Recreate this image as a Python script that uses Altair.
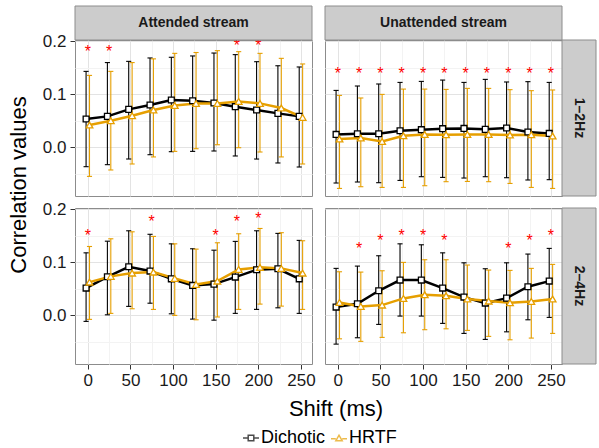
import altair as alt
import pandas as pd

shifts = [0, 25, 50, 75, 100, 125, 150, 175, 200, 225, 250]
streams = ["Attended stream", "Unattended stream"]
bands = ["1–2Hz", "2–4Hz"]
series_names = ["Dichotic", "HRTF"]

# Attended stream, 1–2Hz
att12_dich_mean = [0.0535, 0.0585, 0.0717, 0.080, 0.0894, 0.088, 0.0838, 0.0768, 0.0705, 0.0642, 0.0585]
att12_dich_lo = [-0.0364, -0.0326, -0.0219, -0.0138, -0.0081, -0.0075, -0.0068, -0.0162, -0.022, -0.0294, -0.037]
att12_dich_hi = [0.1434, 0.160, 0.1623, 0.1687, 0.170, 0.1725, 0.178, 0.175, 0.1617, 0.154, 0.1517]
att12_hrtf_mean = [0.0423, 0.0504, 0.0598, 0.0705, 0.0792, 0.083, 0.083, 0.0868, 0.083, 0.0743, 0.0566]
att12_hrtf_lo = [-0.0547, -0.0426, -0.0313, -0.018, -0.0075, -0.0025, 0.005, -0.0006, -0.0087, -0.018, -0.0313]
att12_hrtf_hi = [0.1358, 0.1434, 0.160, 0.167, 0.1774, 0.179, 0.1825, 0.1806, 0.1774, 0.168, 0.1574]
att12_star_shift = [0, 25, 175, 200]
att12_star_y = [0.1875, 0.1875, 0.198, 0.198]

# Unattended stream, 1–2Hz
una12_dich_mean = [0.0245, 0.0258, 0.0258, 0.0315, 0.0334, 0.0353, 0.0358, 0.034, 0.0366, 0.029, 0.0264]
una12_dich_lo = [-0.0672, -0.0653, -0.0666, -0.0623, -0.0553, -0.0566, -0.0578, -0.0553, -0.0572, -0.0615, -0.0609]
una12_dich_hi = [0.1075, 0.1158, 0.1196, 0.1226, 0.1245, 0.127, 0.1226, 0.1283, 0.1234, 0.124, 0.1226]
una12_hrtf_mean = [0.0158, 0.0177, 0.0113, 0.022, 0.0245, 0.024, 0.0245, 0.0245, 0.0234, 0.024, 0.0215]
una12_hrtf_lo = [-0.0774, -0.0742, -0.0755, -0.0755, -0.0723, -0.0647, -0.0642, -0.0647, -0.068, -0.0755, -0.0774]
una12_hrtf_hi = [0.0981, 0.0932, 0.100, 0.110, 0.110, 0.1094, 0.1113, 0.1113, 0.1089, 0.107, 0.1083]
una12_star_shift = [0, 25, 50, 75, 100, 125, 150, 175, 200, 225, 250]
una12_star_y = [0.1466] * 11

# Attended stream, 2–4Hz
att24_dich_mean = [0.0515, 0.0728, 0.0917, 0.0836, 0.069, 0.0566, 0.059, 0.0723, 0.086, 0.0879, 0.069]
att24_dich_lo = [-0.0113, 0.0011, 0.017, 0.023, 0.003, -0.007, -0.009, 0.0038, 0.0113, 0.0143, 0.0038]
att24_dich_hi = [0.118, 0.140, 0.1596, 0.153, 0.135, 0.1257, 0.123, 0.1396, 0.1596, 0.1547, 0.1415]
att24_hrtf_mean = [0.0628, 0.0736, 0.0798, 0.0817, 0.0698, 0.0585, 0.0647, 0.0868, 0.0906, 0.0887, 0.0798]
att24_hrtf_lo = [-0.0075, 0.0038, 0.0125, 0.0113, 0.000, -0.0083, -0.003, 0.0113, 0.0213, 0.0175, 0.0113]
att24_hrtf_hi = [0.130, 0.1445, 0.1577, 0.149, 0.135, 0.125, 0.137, 0.154, 0.164, 0.156, 0.1408]
att24_star_shift = [0, 75, 150, 175, 200]
att24_star_y = [0.158, 0.183, 0.158, 0.183, 0.189]

# Unattended stream, 2–4Hz
una24_dich_mean = [0.0157, 0.0219, 0.0464, 0.0666, 0.0666, 0.0515, 0.0345, 0.0232, 0.0326, 0.054, 0.0647]
una24_dich_lo = [-0.0542, -0.0422, -0.017, -0.0013, -0.0013, -0.0151, -0.034, -0.0453, -0.031, -0.0083, -0.0038]
una24_dich_hi = [0.0887, 0.093, 0.1125, 0.135, 0.1332, 0.118, 0.0992, 0.088, 0.0992, 0.1157, 0.1264]
una24_hrtf_mean = [0.0245, 0.017, 0.0194, 0.032, 0.0389, 0.037, 0.0308, 0.027, 0.0238, 0.0264, 0.0308]
una24_hrtf_lo = [-0.0442, -0.049, -0.0415, -0.0328, -0.027, -0.0253, -0.0283, -0.0396, -0.046, -0.0428, -0.034]
una24_hrtf_hi = [0.0823, 0.0817, 0.0842, 0.100, 0.105, 0.105, 0.095, 0.0855, 0.0849, 0.0887, 0.0962]
una24_star_shift = [25, 50, 75, 100, 125, 200, 225, 250]
una24_star_y = [0.1326, 0.148, 0.157, 0.157, 0.148, 0.1326, 0.148, 0.157]

panels = [
    ("Attended stream", "1–2Hz",
     (att12_dich_mean, att12_dich_lo, att12_dich_hi),
     (att12_hrtf_mean, att12_hrtf_lo, att12_hrtf_hi),
     (att12_star_shift, att12_star_y)),
    ("Unattended stream", "1–2Hz",
     (una12_dich_mean, una12_dich_lo, una12_dich_hi),
     (una12_hrtf_mean, una12_hrtf_lo, una12_hrtf_hi),
     (una12_star_shift, una12_star_y)),
    ("Attended stream", "2–4Hz",
     (att24_dich_mean, att24_dich_lo, att24_dich_hi),
     (att24_hrtf_mean, att24_hrtf_lo, att24_hrtf_hi),
     (att24_star_shift, att24_star_y)),
    ("Unattended stream", "2–4Hz",
     (una24_dich_mean, una24_dich_lo, una24_dich_hi),
     (una24_hrtf_mean, una24_hrtf_lo, una24_hrtf_hi),
     (una24_star_shift, una24_star_y)),
]

rows = []
for stream, band, dich, hrtf, stars in panels:
    star_map = dict(zip(stars[0], stars[1]))
    for name, (m, lo, hi) in (("Dichotic", dich), ("HRTF", hrtf)):
        for i, s in enumerate(shifts):
            rows.append({
                "stream": stream, "band": band, "series": name, "shift": s,
                "mean": m[i], "lo": lo[i], "hi": hi[i],
                "star_y": star_map.get(s) if name == "Dichotic" else None,
            })
df = pd.DataFrame(rows)

FONT = "Liberation Sans"
W, H = 237, 156
STRIP = 34
DODGE = 2
CAP = 3

x_scale = alt.Scale(domain=[-15, 263], nice=False, zero=False)
y_scale = alt.Scale(domain=[-0.0917, 0.2026], nice=False, zero=False)

axis_common = dict(
    labelFont=FONT, labelFontSize=17, labelColor="#1A1A1A",
    tickColor="#333333", tickSize=5, domain=False, gridWidth=1, title=None,
)
x_axis = alt.Axis(
    values=[0, 25, 50, 75, 100, 125, 150, 175, 200, 225, 250],
    labelExpr="datum.value % 50 == 0 ? datum.label : ''",
    tickOpacity={"condition": {"test": "datum.value % 50 == 0", "value": 1}, "value": 0},
    gridColor={"condition": {"test": "datum.value % 50 == 0", "value": "#E3E3E3"}, "value": "#F3F3F3"},
    labelPadding=3,
    **axis_common,
)
major_y = "abs(datum.value*10 - round(datum.value*10)) < 0.001"
y_axis = alt.Axis(
    values=[-0.05, 0.0, 0.05, 0.1, 0.15, 0.2],
    labelExpr=major_y + " ? format(datum.value, '.1f') : ''",
    tickOpacity={"condition": {"test": major_y, "value": 1}, "value": 0},
    gridColor={"condition": {"test": major_y, "value": "#E3E3E3"}, "value": "#F3F3F3"},
    labelPadding=4,
    **axis_common,
)

legend = alt.Legend(
    title=None, orient="none", direction="horizontal", legendX=167, legendY=389,
    labelFont=FONT, labelFontSize=18, labelColor="black", symbolSize=256,
    symbolStrokeWidth=1.5, columnPadding=2, labelOffset=1,
)
color = alt.Color(
    "series:N",
    scale=alt.Scale(domain=series_names, range=["#000000", "#E69F00"]),
    legend=legend,
)
shape = alt.Shape(
    "series:N",
    scale=alt.Scale(
        domain=series_names,
        range=[
            "M-1,0H-0.35M0.35,0H1M-0.35,-0.35H0.35V0.35H-0.35Z",
            "M-1,0.1H-0.4M0.4,0.1H1M-0.4,0.35L0,-0.35L0.4,0.35Z",
        ],
    ),
    legend=legend,
)

dodge_expr = "datum.shift + (datum.series == 'Dichotic' ? -%d : %d)" % (DODGE, DODGE)
base = alt.Chart().transform_calculate(
    xd=dodge_expr,
    xl=dodge_expr + " - %d" % CAP,
    xr=dodge_expr + " + %d" % CAP,
)

X = alt.X("xd:Q", scale=x_scale, axis=x_axis)
Y = alt.Y("mean:Q", scale=y_scale, axis=y_axis)

err = base.mark_rule(strokeWidth=1.1).encode(
    x=X, y=alt.Y("lo:Q", scale=y_scale, axis=y_axis), y2="hi:Q", color=color
)
cap_hi = base.mark_rule(strokeWidth=1.1).encode(
    x=alt.X("xl:Q", scale=x_scale, axis=x_axis), x2="xr:Q",
    y=alt.Y("hi:Q", scale=y_scale, axis=y_axis), color=color
)
cap_lo = base.mark_rule(strokeWidth=1.1).encode(
    x=alt.X("xl:Q", scale=x_scale, axis=x_axis), x2="xr:Q",
    y=alt.Y("lo:Q", scale=y_scale, axis=y_axis), color=color
)
lines = base.mark_line(strokeWidth=2.5).encode(
    x=X, y=Y, color=color, detail="series:N"
)
pts_d = base.mark_point(shape="square", fill="white", stroke="black", strokeWidth=1.3,
                        size=34, opacity=1, filled=False).encode(x=X, y=Y).transform_filter(
    "datum.series == 'Dichotic'")
pts_h = base.mark_point(shape="triangle-up", fill="white", stroke="#E69F00", strokeWidth=1.3,
                        size=45, opacity=1, filled=False).encode(x=X, y=Y).transform_filter(
    "datum.series == 'HRTF'")
legend_layer = base.mark_point(clip=True, size=256, strokeWidth=1.5).encode(
    x=X, y=alt.value(-1000), color=color, shape=shape
)
stars = alt.Chart().mark_text(text="*", color="#FF0000", fontSize=16, dy=4, font=FONT).encode(
    x=alt.X("shift:Q", scale=x_scale, axis=x_axis),
    y=alt.Y("star_y:Q", scale=y_scale, axis=y_axis),
).transform_filter("datum.star_y != null")

top_filter = "datum.band == '1–2Hz' && datum.shift == 0 && datum.series == 'Dichotic'"
right_filter = "datum.stream == 'Unattended stream' && datum.shift == 0 && datum.series == 'Dichotic'"
strip_top = alt.Chart().mark_rect(fill="#CCCCCC", stroke="#8C8C8C", strokeWidth=1).encode(
    x=alt.value(0), x2=alt.value(W), y=alt.value(-STRIP), y2=alt.value(0)
).transform_filter(top_filter)
strip_top_text = alt.Chart().mark_text(font=FONT, fontSize=14, fontWeight="bold", color="#1A1A1A",
                                       baseline="middle", align="center").encode(
    x=alt.value(W / 2), y=alt.value(-STRIP / 2), text="stream:N"
).transform_filter(top_filter)
strip_right = alt.Chart().mark_rect(fill="#CCCCCC", stroke="#8C8C8C", strokeWidth=1).encode(
    x=alt.value(W), x2=alt.value(W + STRIP), y=alt.value(0), y2=alt.value(H)
).transform_filter(right_filter)
strip_right_text = alt.Chart().mark_text(font=FONT, fontSize=14, fontWeight="bold", color="#1A1A1A",
                                         baseline="middle", align="center", angle=90).encode(
    x=alt.value(W + STRIP / 2), y=alt.value(H / 2), text="band:N"
).transform_filter(right_filter)

inner = alt.layer(
    err, cap_hi, cap_lo, lines, pts_d, pts_h, stars, legend_layer,
    strip_top, strip_top_text, strip_right, strip_right_text,
).properties(width=W, height=H)

chart = inner.facet(
    row=alt.Row("band:N", sort=bands, header=alt.Header(
        labels=False, title="Correlation values", titleFont=FONT, titleFontSize=22,
        titleFontWeight="normal", titleColor="black", titlePadding=1)),
    column=alt.Column("stream:N", sort=streams, header=alt.Header(
        labels=False, title="Shift (ms)", titleOrient="bottom", titleFont=FONT,
        titleFontSize=22, titleFontWeight="normal", titleColor="black", titlePadding=1)),
    data=df,
    spacing={"row": 12, "column": 13},
    bounds="flush",
).properties(
    background="white",
    padding={"left": 7, "right": 1, "top": 5, "bottom": 5},
).configure_view(
    stroke="#8C8C8C", strokeWidth=1
)

chart.save("out.html", embed_options={"renderer": "svg", "actions": False})
